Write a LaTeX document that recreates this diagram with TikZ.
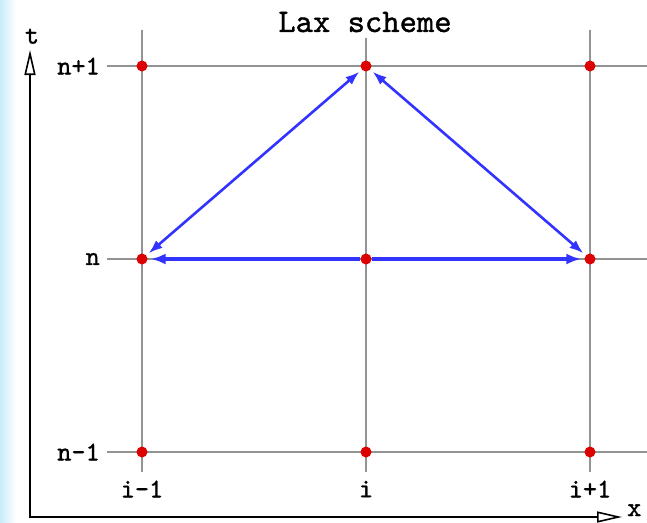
\documentclass[tikz,border=0pt]{standalone}
\usepackage{fontspec}
\newfontfamily\courb{lmmono10-regular.otf}[FakeBold=1.2]
\usetikzlibrary{arrows.meta}
\definecolor{arrowblue}{RGB}{51,51,255}
\definecolor{dotred}{RGB}{221,0,0}
\definecolor{edgeblue}{RGB}{200,236,250}
\begin{document}
\begin{tikzpicture}[x=1pt,y=-1pt,
  gridline/.style={draw=gray!85, line width=1.1pt},
  dot/.style={circle, fill=dotred, inner sep=0pt, minimum size=11pt},
  lbl/.style={font=\courb\fontsize{27}{27}\selectfont, inner sep=0pt},
  ttl/.style={font=\courb\fontsize{33}{33}\selectfont, inner sep=0pt},
  axisline/.style={line width=2pt, -{Triangle[length=25pt,width=11pt,fill=white,line width=1.6pt]}},
  harrow/.style={draw=arrowblue, line width=3.6pt, shorten >=3pt, -{Latex[length=15pt,width=11pt]}},
  darrow/.style={draw=arrowblue, line width=2.6pt, shorten >=3pt, shorten <=3pt, {Latex[length=14pt,width=10pt]}-{Latex[length=14pt,width=10pt]}}]
\useasboundingbox (0,0) rectangle (647,522);
\shade[left color=edgeblue, right color=white] (0,0) rectangle (16,522);
% grid
\draw[gridline] (107,66) -- (647,66);
\draw[gridline] (107,259) -- (647,259);
\draw[gridline] (107,452) -- (647,452);
\draw[gridline] (142,30) -- (142,472);
\draw[gridline] (366,38) -- (366,472);
\draw[gridline] (590,30) -- (590,472);
% axes
\coordinate (O) at (30,517);
\coordinate (tend) at (30,50);
\coordinate (xend) at (622,517);
\draw[axisline] (30,518) -- (tend);
\draw[axisline] (29,517) -- (xend);
\node[lbl, anchor=south] (tlabel) at (32,44) {t};
\node[lbl, anchor=base west] (xlabel) at (627,516) {x};
% title
\node[ttl] (title) at (365,22) {Lax scheme};
% dots
\node[dot] (a1) at (142,66) {};
\node[dot] (a2) at (366,66) {};
\node[dot] (a3) at (590,66) {};
\node[dot] (b1) at (142,259) {};
\node[dot] (b2) at (366,259) {};
\node[dot] (b3) at (590,259) {};
\node[dot] (c1) at (142,452) {};
\node[dot] (c2) at (366,452) {};
\node[dot] (c3) at (590,452) {};
% labels
\node[lbl, anchor=east] (ln1) at (100,66) {n+1};
\node[lbl, anchor=east] (ln0) at (100,259) {n};
\node[lbl, anchor=east] (lnm) at (100,452) {n-1};
\node[lbl] (li1) at (142,489) {i-1};
\node[lbl] (li0) at (366,489) {i};
\node[lbl] (li2) at (590,489) {i+1};
% arrows
\draw[harrow] (b2) -- (b1);
\draw[harrow] (b2) -- (b3);
\draw[darrow] (b1) -- (a2);
\draw[darrow] (b3) -- (a2);
\end{tikzpicture}
\end{document}
